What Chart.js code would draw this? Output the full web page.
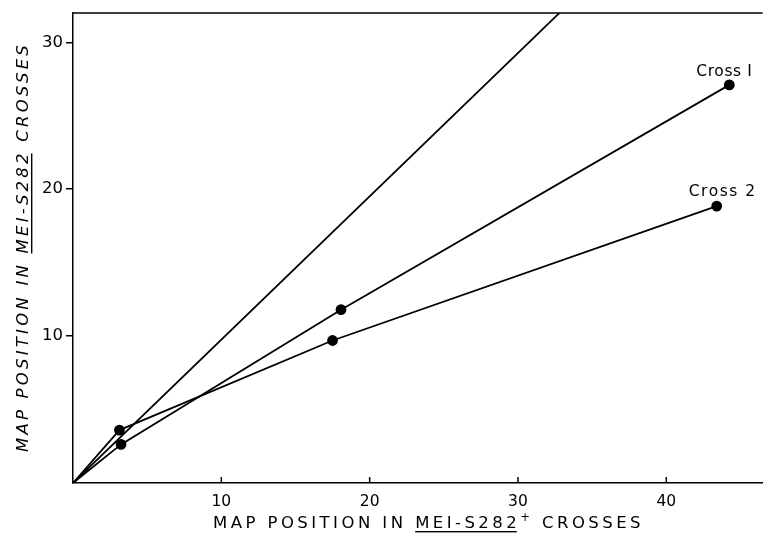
<!DOCTYPE html>
<html>
<head>
<meta charset="utf-8">
<script src="https://cdn.jsdelivr.net/npm/chart.js@4.4.1/dist/chart.umd.min.js"></script>
<style>
  body { margin: 0; background: #fff; }
  #wrap { width: 769px; height: 544px; }
</style>
</head>
<body>
<div id="wrap"><canvas id="mapChart" width="769" height="544"></canvas></div>
<script>
// values (map units)
const cross1X = [0, 3.24, 18.07, 44.25];
const cross1Y = [0, 2.63, 11.8, 27.1];
const cross2X = [0, 3.13, 17.5, 43.4];
const cross2Y = [0, 3.6, 9.7, 18.85];
const equalX = [0, 32.8];
const equalY = [0, 32];
const xTickVals = [10, 20, 30, 40];
const yTickVals = [10, 20, 30];
const seriesNames = ['Cross I', 'Cross 2'];

const toPts = (xs, ys) => xs.map((x, i) => ({x: x, y: ys[i]}));
const FONT = '"DejaVu Sans", sans-serif';

function pieceFont(p, size, italic) {
  const sz = p.sup ? size * 0.7 : size;
  return (italic ? 'italic ' : '') + sz + 'px ' + FONT;
}

// draw a run of text pieces spread to a given width; optional underline / superscript
function drawPieces(c, pieces, x, y, size, italic, width) {
  let natural = 0, n = 0;
  c.letterSpacing = '0px';
  pieces.forEach(p => {
    c.font = pieceFont(p, size, italic);
    natural += c.measureText(p.t).width;
    n += p.t.length;
  });
  const spacing = width ? (width - natural) / n : 0.8;
  let cx = x;
  pieces.forEach(p => {
    c.font = pieceFont(p, size, italic);
    c.letterSpacing = spacing + 'px';
    const w = c.measureText(p.t).width;
    c.fillText(p.t, cx, p.sup ? y - size * 0.45 : y);
    if (p.u) {
      c.fillRect(cx, y + 3, w - spacing, 1.4);
    }
    cx += w;
  });
  c.letterSpacing = '0px';
}

const annot = {
  id: 'annot',
  afterDraw(chart) {
    const c = chart.ctx, a = chart.chartArea;
    const xs = chart.scales.x, ys = chart.scales.y;
    c.save();
    c.strokeStyle = '#000';
    c.fillStyle = '#000';
    c.lineWidth = 1.5;
    // top frame line
    c.beginPath();
    c.moveTo(a.left, a.top);
    c.lineTo(a.right, a.top);
    c.stroke();
    // inward tick marks on x axis
    xTickVals.forEach(v => {
      const px = xs.getPixelForValue(v);
      c.beginPath();
      c.moveTo(px, a.bottom);
      c.lineTo(px, a.bottom - 6);
      c.stroke();
    });
    c.textBaseline = 'alphabetic';
    c.textAlign = 'left';
    // x title
    const xt = [{t: 'MAP POSITION IN '}, {t: 'MEI-S282', u: true}, {t: '+', sup: true}, {t: ' CROSSES'}];
    drawPieces(c, xt, 213, 528, 16.5, false, 431);
    // y title (rotated)
    c.save();
    c.translate(28, 452);
    c.rotate(-Math.PI / 2);
    const yt = [{t: 'MAP POSITION IN '}, {t: 'MEI-S282', u: true}, {t: ' CROSSES'}];
    drawPieces(c, yt, 0, 0, 16.5, true, 410);
    c.restore();
    // series labels at last points
    const l1 = cross1X.length - 1, l2 = cross2X.length - 1;
    drawPieces(c, [{t: seriesNames[0]}], xs.getPixelForValue(cross1X[l1]) - 33, ys.getPixelForValue(cross1Y[l1]) - 9, 15.5, false, 56);
    drawPieces(c, [{t: seriesNames[1]}], xs.getPixelForValue(cross2X[l2]) - 28, ys.getPixelForValue(cross2Y[l2]) - 10, 15.5, false, 68);
    c.restore();
  }
};

const dotRadius = [0, 4.5, 4.5, 4.5];
const lineStyle = {
  showLine: true, borderColor: '#000', backgroundColor: '#000',
  borderWidth: 1.8, pointRadius: dotRadius, pointHoverRadius: dotRadius, tension: 0
};

new Chart(document.getElementById('mapChart'), {
  type: 'scatter',
  data: {
    datasets: [
      Object.assign({label: seriesNames[0], data: toPts(cross1X, cross1Y)}, lineStyle),
      Object.assign({label: seriesNames[1], data: toPts(cross2X, cross2Y)}, lineStyle),
      Object.assign({}, lineStyle, {label: 'equal', data: toPts(equalX, equalY), pointRadius: 0, pointHoverRadius: 0})
    ]
  },
  options: {
    responsive: false,
    animation: false,
    layout: {padding: {top: 12, right: 2, left: 0, bottom: 0}},
    plugins: {legend: {display: false}, tooltip: {enabled: false}},
    scales: {
      x: {
        type: 'linear', min: 0, max: 46.5,
        afterBuildTicks: s => { s.ticks = xTickVals.map(v => ({value: v})); },
        afterFit: s => { s.height = 61; },
        grid: {display: true, drawOnChartArea: false, drawTicks: false},
        border: {display: true, color: '#000', width: 1.5},
        ticks: {color: '#000', padding: 10, font: {family: FONT, size: 15.5}, maxRotation: 0}
      },
      y: {
        type: 'linear', min: 0, max: 32,
        afterBuildTicks: s => { s.ticks = yTickVals.map(v => ({value: v})); },
        afterFit: s => { s.width = 73; },
        grid: {display: true, drawOnChartArea: false, tickLength: 7, color: '#000', lineWidth: 1.5},
        border: {display: true, color: '#000', width: 1.5},
        ticks: {color: '#000', padding: 3, font: {family: FONT, size: 16.5}}
      }
    }
  },
  plugins: [annot]
});
</script>
</body>
</html>
